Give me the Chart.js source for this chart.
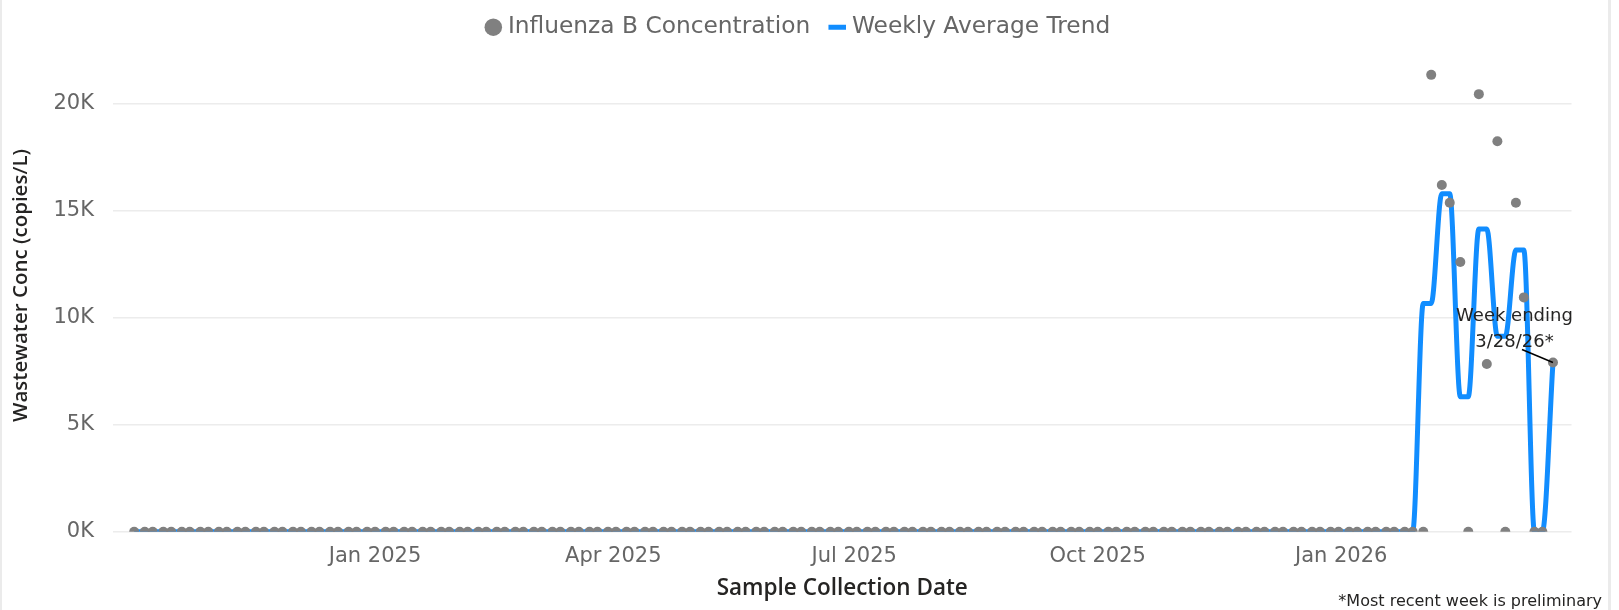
<!DOCTYPE html>
<html lang="en">
<head>
<meta charset="UTF-8">
<title>Influenza B Wastewater Concentration</title>
<script src="https://cdn.jsdelivr.net/npm/chart.js"></script>
<style>
  html, body { margin: 0; padding: 0; background: #fff; }
  .wrap { position: relative; width: 1619px; height: 610px; }
  .edge-left { position: absolute; left: 0; top: 0; width: 2px; height: 610px; background: #ebebeb; }
  .edge-right { position: absolute; left: 1608px; top: 0; width: 3px; height: 610px; background: #ebebeb; }
  .note { position: absolute; right: 17px; top: 591px; font: 16px 'DejaVu Sans'; line-height: 19px; color: #252423; }
</style>
</head>
<body>
<div class="wrap">
  <canvas id="fluChart"></canvas>
  <div class="edge-left"></div>
  <div class="edge-right"></div>
  <div class="note">*Most recent week is preliminary</div>
</div>
<script>
// samples are taken every Wednesday and Sunday
const firstSample = '2024-10-02';
const lastSample = '2026-03-22';

// copies/L, one per sample
const fluBConc = [
  0, 0, 0, 0, 0, 0, 0, 0, 0, 0, 0, 0, 0, 0, 0, 0, 0, 0, 0, 0,
  0, 0, 0, 0, 0, 0, 0, 0, 0, 0, 0, 0, 0, 0, 0, 0, 0, 0, 0, 0,
  0, 0, 0, 0, 0, 0, 0, 0, 0, 0, 0, 0, 0, 0, 0, 0, 0, 0, 0, 0,
  0, 0, 0, 0, 0, 0, 0, 0, 0, 0, 0, 0, 0, 0, 0, 0, 0, 0, 0, 0,
  0, 0, 0, 0, 0, 0, 0, 0, 0, 0, 0, 0, 0, 0, 0, 0, 0, 0, 0, 0,
  0, 0, 0, 0, 0, 0, 0, 0, 0, 0, 0, 0, 0, 0, 0, 0, 0, 0, 0, 0,
  0, 0, 0, 0, 0, 0, 0, 0, 0, 0, 0, 0, 0, 0, 0, 0, 0, 0, 0, 0,
  21330, 16190, 15360, 12590, 0, 20430, 7830, 18230, 0, 15360, 10940, 0, 0, 7900
];

// weekly average at each sample
const weeklyAvg = [
  0, 0, 0, 0, 0, 0, 0, 0, 0, 0, 0, 0, 0, 0, 0, 0, 0, 0, 0, 0,
  0, 0, 0, 0, 0, 0, 0, 0, 0, 0, 0, 0, 0, 0, 0, 0, 0, 0, 0, 0,
  0, 0, 0, 0, 0, 0, 0, 0, 0, 0, 0, 0, 0, 0, 0, 0, 0, 0, 0, 0,
  0, 0, 0, 0, 0, 0, 0, 0, 0, 0, 0, 0, 0, 0, 0, 0, 0, 0, 0, 0,
  0, 0, 0, 0, 0, 0, 0, 0, 0, 0, 0, 0, 0, 0, 0, 0, 0, 0, 0, 0,
  0, 0, 0, 0, 0, 0, 0, 0, 0, 0, 0, 0, 0, 0, 0, 0, 0, 0, 0, 0,
  0, 0, 0, 0, 0, 0, 0, 0, 0, 0, 0, 0, 0, 0, 0, 0, 0, 0, 0,
  10660, 10660, 15780, 15780, 6300, 6300, 14130, 14130, 9120, 9120, 13150, 13150, 0, 0, 7900
];

const xTickDates = ['2025-01-01', '2025-04-01', '2025-07-01', '2025-10-01', '2026-01-01'];
const xTickLabels = ['Jan 2025', 'Apr 2025', 'Jul 2025', 'Oct 2025', 'Jan 2026'];
const yTickValues = [0, 5000, 10000, 15000, 20000];
const yTickLabels = ['0K', '5K', '10K', '15K', '20K'];
const axisStart = '2024-09-24';
const axisEnd = '2026-03-29';
const noteLines = ['Week ending', '3/28/26*'];

const DAY = 86400000;
const origin = Date.parse('2025-01-01');
const dayNum = s => (Date.parse(s) - origin) / DAY;

const sampleDays = [];
for (let d = dayNum(firstSample), step = 4; d <= dayNum(lastSample); d += step, step = 7 - step) {
  sampleDays.push(d);
}

Chart.defaults.font.family = "'DejaVu Sans', sans-serif";
const titleFont = "'Open Sans', 'DejaVu Sans', sans-serif";

// legend band: fixed height, nudged to where the original sits
const legendBand = {
  id: 'legendBand',
  beforeLayout(chart) {
    const lg = chart.legend;
    if (lg && !lg._banded) {
      const fit = lg.fit;
      lg.fit = function () { fit.call(this); this.height = 60.5; };
      lg._banded = true;
    }
  },
  afterLayout(chart) {
    const lg = chart.legend;
    lg.left += 14.5;
    lg.right += 14.5;
    lg.top -= 8.5;
    lg.bottom -= 8.5;
  }
};

const lastWeekNote = {
  id: 'lastWeekNote',
  afterDatasetsDraw(chart) {
    const meta = chart.getDatasetMeta(0);
    const pt = meta.data[meta.data.length - 1];
    const ctx = chart.ctx;
    ctx.save();
    ctx.strokeStyle = '#000';
    ctx.lineWidth = 1.5;
    ctx.beginPath();
    ctx.moveTo(pt.x - 31, pt.y - 13);
    ctx.lineTo(pt.x, pt.y);
    ctx.stroke();
    ctx.fillStyle = '#252423';
    ctx.font = "18px 'DejaVu Sans'";
    ctx.textAlign = 'center';
    ctx.textBaseline = 'middle';
    noteLines.forEach((s, i) => ctx.fillText(s, pt.x - 38.5, pt.y - 46 + i * 26));
    ctx.restore();
  }
};

const ctx = document.getElementById('fluChart').getContext('2d');
new Chart(ctx, {
  type: 'scatter',
  data: {
    datasets: [{
      label: 'Influenza B Concentration',
      data: sampleDays.map((d, i) => ({ x: d, y: fluBConc[i] })),
      order: 0,
      backgroundColor: '#808080',
      borderColor: '#808080',
      pointRadius: 5,
      pointBorderWidth: 0,
      pointStyle: 'circle'
    }, {
      type: 'line',
      label: 'Weekly Average Trend',
      data: sampleDays.map((d, i) => ({ x: d, y: weeklyAvg[i] })),
      order: 1,
      borderColor: '#118DFF',
      backgroundColor: '#118DFF',
      borderWidth: 5,
      pointRadius: 0,
      pointHoverRadius: 0,
      pointStyle: 'line',
      pointBorderWidth: 5,
      cubicInterpolationMode: 'monotone',
      borderJoinStyle: 'round',
      fill: false
    }]
  },
  options: {
    responsive: true,
    maintainAspectRatio: false,
    animation: false,
    layout: { padding: { left: 0, right: 47.5, top: 0, bottom: 0 } },
    plugins: {
      legend: {
        position: 'top',
        labels: {
          usePointStyle: true,
          boxWidth: 6,
          boxHeight: 12.4,
          padding: 24,
          color: '#666666',
          font: { size: 23.3 }
        }
      },
      tooltip: { enabled: false }
    },
    scales: {
      x: {
        type: 'linear',
        min: dayNum(axisStart),
        max: dayNum(axisEnd),
        grid: { display: false },
        border: { display: false },
        afterBuildTicks: s => { s.ticks = xTickDates.map(d => ({ value: dayNum(d) })); },
        afterFit: s => { s.height = 78.3; },
        ticks: {
          callback: (v, i) => xTickLabels[i],
          color: '#666666',
          font: { size: 21 },
          padding: 4,
          maxRotation: 0,
          autoSkip: false
        },
        title: {
          display: true,
          text: 'Sample Collection Date',
          color: '#252423',
          font: { family: titleFont, size: 22.5, weight: 600 },
          padding: { top: 0, bottom: 8 }
        }
      },
      y: {
        min: 0,
        max: 22000,
        grid: { color: '#ececec', lineWidth: 1.5, drawTicks: false },
        border: { display: false },
        afterBuildTicks: s => { s.ticks = yTickValues.map(v => ({ value: v })); },
        afterFit: s => { s.width = 113; },
        ticks: {
          callback: (v, i) => yTickLabels[i],
          color: '#666666',
          font: { size: 21 },
          padding: 19
        },
        title: {
          display: true,
          // leading spaces lift the title to sit a little above the axis centre, as in the original
          text: '    Wastewater Conc (copies/L)',
          color: '#252423',
          font: { family: titleFont, size: 20.5, weight: 600 },
          padding: { top: 9, bottom: 0 }
        }
      }
    }
  },
  plugins: [legendBand, lastWeekNote]
});
</script>
</body>
</html>
